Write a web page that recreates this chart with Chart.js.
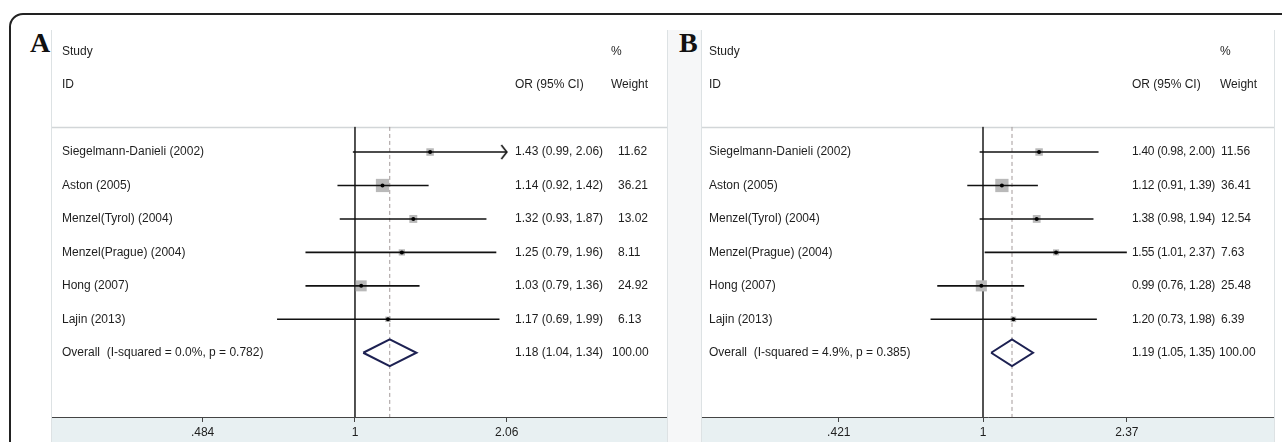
<!doctype html>
<html>
<head>
<meta charset="utf-8">
<title>Forest plots</title>
<script src="https://cdn.jsdelivr.net/npm/chart.js@4"></script>
<style>
  body { margin: 0; width: 1282px; height: 442px; overflow: hidden; background: #fff; }
  .frame { position: absolute; left: 9px; top: 13px; width: 1320px; height: 480px; border: 2px solid #222; border-radius: 14px; box-sizing: border-box; }
  .gap { position: absolute; left: 667px; top: 30px; width: 35px; height: 412px; background: #f6f7f8; }
  .letter { position: absolute; top: 27px; line-height: 28px; font: bold 28px "Liberation Serif", "Times New Roman", serif; color: #111; }
  .panel { position: absolute; top: 30px; box-shadow: -1px 0 0 #dde2e4, 1px 0 0 #dde2e4; }
  canvas { display: block; }
</style>
</head>
<body>
<div class="frame"></div>
<div class="gap"></div>
<div class="letter" style="left:30px">A</div>
<div class="letter" style="left:679px">B</div>
<div class="panel" style="left:52px"><canvas id="forestA" width="615" height="412"></canvas></div>
<div class="panel" style="left:702px"><canvas id="forestB" width="572" height="412"></canvas></div>

<script>
// studies (same in both panels)
var studies = ['Siegelmann-Danieli (2002)', 'Aston (2005)', 'Menzel(Tyrol) (2004)',
               'Menzel(Prague) (2004)', 'Hong (2007)', 'Lajin (2013)'];

// panel A
var orA = [1.43, 1.14, 1.32, 1.25, 1.03, 1.17];
var lowA = [0.99, 0.92, 0.93, 0.79, 0.79, 0.69];
var highA = [2.06, 1.42, 1.87, 1.96, 1.36, 1.99];
var weightA = [11.62, 36.21, 13.02, 8.11, 24.92, 6.13];
var arrowA = [true, false, false, false, false, false];
var overallA = [1.18, 1.04, 1.34];   // OR, low, high
var overallLabelA = 'Overall  (I-squared = 0.0%, p = 0.782)';
var ticksA = [0.484, 1, 2.06];
var tickLabelsA = ['.484', '1', '2.06'];

// panel B
var orB = [1.40, 1.12, 1.38, 1.55, 0.99, 1.20];
var lowB = [0.98, 0.91, 0.98, 1.01, 0.76, 0.73];
var highB = [2.00, 1.39, 1.94, 2.37, 1.28, 1.98];
var weightB = [11.56, 36.41, 12.54, 7.63, 25.48, 6.39];
var arrowB = [false, false, false, false, false, false];
var overallB = [1.19, 1.05, 1.35];
var overallLabelB = 'Overall  (I-squared = 4.9%, p = 0.385)';
var ticksB = [0.421, 1, 2.37];
var tickLabelsB = ['.421', '1', '2.37'];

var FAMILY = '"Liberation Sans", Arial, sans-serif';
var TEXT = '#1e1e1e';
var Y_MIN = -3.647, Y_MAX = 7.92;   // rows: -3 Study, -2 ID, 0..5 studies, 6 overall
var SEP_ROW = -0.75;

// little open arrow head for a clipped CI
function chevron() {
    var c = document.createElement('canvas');
    c.width = 14; c.height = 16;
    var g = c.getContext('2d');
    g.strokeStyle = '#111';
    g.lineWidth = 1.6;
    g.beginPath();
    g.moveTo(1.5, 1); g.lineTo(7, 8); g.lineTo(1.5, 15);
    g.stroke();
    return c;
}

function fmt(v) { return v.toFixed(2); }

function forest(id, d) {
    var n = d.or.length;
    var overallRow = n;
    var datasets = [];

    // reference line at OR = 1 and dashed line at the pooled OR
    datasets.push({
        data: [{ x: 1, y: SEP_ROW }, { x: 1, y: Y_MAX }],
        borderColor: '#3a3a3a', borderWidth: 1, order: 5
    });
    datasets.push({
        data: [{ x: d.overall[0], y: SEP_ROW }, { x: d.overall[0], y: Y_MAX }],
        borderColor: '#a39a9a', borderWidth: 1, borderDash: [4, 3], order: 5
    });

    // weight boxes
    datasets.push({
        data: d.or.map(function (v, i) { return { x: v, y: i }; }),
        showLine: false,
        pointStyle: 'rect',
        pointRadius: function (c) { return 2.2 * Math.sqrt(d.weight[c.dataIndex]) / Math.SQRT2; },
        backgroundColor: '#b9b9b9', borderWidth: 0, order: 4
    });

    // confidence intervals
    for (var i = 0; i < n; i++) {
        datasets.push({
            data: [{ x: d.low[i], y: i }, { x: d.high[i], y: i }],
            borderColor: '#111', borderWidth: 1.6, order: 3
        });
    }

    // arrow heads where the CI runs past the axis
    datasets.push({
        data: d.high.map(function (v, i) { return { x: v, y: i }; })
                    .filter(function (p, i) { return d.arrow[i]; }),
        showLine: false,
        pointStyle: chevron(), pointRadius: 6,
        order: 2
    });

    // point estimates
    datasets.push({
        data: d.or.map(function (v, i) { return { x: v, y: i }; }),
        showLine: false,
        pointStyle: 'circle', pointRadius: 2,
        backgroundColor: '#000', borderWidth: 0, order: 1
    });

    // pooled diamond
    var h = 0.4;
    datasets.push({
        data: [
            { x: d.overall[1], y: overallRow },
            { x: d.overall[0], y: overallRow - h },
            { x: d.overall[2], y: overallRow },
            { x: d.overall[0], y: overallRow + h },
            { x: d.overall[1], y: overallRow }
        ],
        borderColor: '#1d2152', borderWidth: 2, order: 1
    });

    var textPlugin = {
        id: 'forestText',
        beforeDraw: function (chart) {
            var ctx = chart.ctx, a = chart.chartArea;
            ctx.save();
            ctx.fillStyle = '#e8f0f2';
            ctx.fillRect(0, 0, chart.width, chart.height);
            ctx.fillStyle = '#fff';
            ctx.fillRect(a.left, a.top, a.right - a.left, a.bottom - a.top);
            var y = Math.round(chart.scales.y.getPixelForValue(SEP_ROW)) + 0.5;
            ctx.strokeStyle = '#d2d6d8';
            ctx.lineWidth = 1.5;
            ctx.beginPath();
            ctx.moveTo(a.left, y); ctx.lineTo(a.right, y);
            ctx.stroke();
            ctx.restore();
        },
        afterDraw: function (chart) {
            var ctx = chart.ctx, ys = chart.scales.y;
            ctx.save();
            ctx.fillStyle = TEXT;
            ctx.textBaseline = 'middle';
            ctx.textAlign = 'left';
            function put(s, x, row) { ctx.fillText(s, x, ys.getPixelForValue(row)); }
            ctx.font = '12px ' + FAMILY;
            put('Study', d.labelX, -3);
            put('ID', d.labelX, -2);
            put('OR (95% CI)', d.ciX, -2);
            put('%', d.hX, -3);
            put('Weight', d.hX, -2);
            for (var i = 0; i < n; i++) {
                put(studies[i], d.labelX, i);
                put(fmt(d.weight[i]), d.wX, i);
            }
            put(d.overallLabel, d.labelX, overallRow);
            put('100.00', d.totX, overallRow);
            ctx.letterSpacing = d.ciSpacing;
            for (i = 0; i < n; i++) {
                put(fmt(d.or[i]) + ' (' + fmt(d.low[i]) + ', ' + fmt(d.high[i]) + ')', d.ciX, i);
            }
            put(fmt(d.overall[0]) + ' (' + fmt(d.overall[1]) + ', ' + fmt(d.overall[2]) + ')', d.ciX, overallRow);
            ctx.restore();
        }
    };

    return new Chart(document.getElementById(id).getContext('2d'), {
        type: 'scatter',
        data: { datasets: datasets },
        plugins: [textPlugin],
        options: {
            responsive: false,
            animation: false,
            devicePixelRatio: 1,
            showLine: true,
            elements: { point: { radius: 0 }, line: { tension: 0 } },
            layout: { padding: 0, autoPadding: false },
            plugins: { legend: { display: false }, tooltip: { enabled: false } },
            scales: {
                x: {
                    type: 'logarithmic',
                    min: d.xMin, max: d.xMax,
                    afterBuildTicks: function (s) { s.ticks = d.ticks.map(function (v) { return { value: v }; }); },
                    afterFit: function (s) { s.height = 25; },
                    ticks: {
                        autoSkip: false, maxRotation: 0, padding: 3,
                        font: { family: FAMILY, size: 12 },
                        color: TEXT,
                        callback: function (v, i) { return d.tickLabels[i]; }
                    },
                    grid: { drawOnChartArea: false, drawTicks: true, tickLength: 5, color: '#444' },
                    border: { display: true, color: '#444', width: 1 }
                },
                y: {
                    type: 'linear', reverse: true,
                    min: Y_MIN, max: Y_MAX,
                    display: false
                }
            }
        }
    });
}

forest('forestA', {
    or: orA, low: lowA, high: highA, weight: weightA, arrow: arrowA,
    overall: overallA, overallLabel: overallLabelA,
    ticks: ticksA, tickLabels: tickLabelsA,
    xMin: 0.2363, xMax: 4.418,
    labelX: 10, ciX: 463, ciSpacing: '0px', hX: 559, wX: 566, totX: 560
});

forest('forestB', {
    or: orB, low: lowB, high: highB, weight: weightB, arrow: arrowB,
    overall: overallB, overallLabel: overallLabelB,
    ticks: ticksB, tickLabels: tickLabelsB,
    xMin: 0.1853, xMax: 5.73,
    labelX: 7, ciX: 430, ciSpacing: '-0.3px', hX: 518, wX: 519, totX: 517
});
</script>
</body>
</html>
